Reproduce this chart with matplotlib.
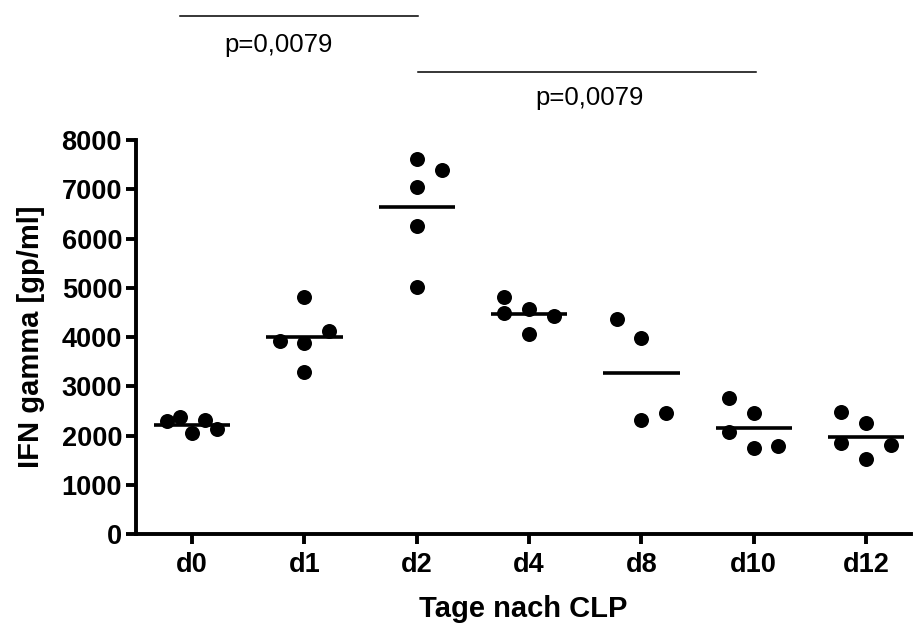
import matplotlib
matplotlib.use("Agg")
import matplotlib.pyplot as plt
import numpy as np

# data
days = ["d0", "d1", "d2", "d4", "d8", "d10", "d12"]
ifn_d0 = [2300, 2380, 2045, 2315, 2125]
ifn_d1 = [3925, 3870, 4130, 3295, 4810]
ifn_d2 = [7610, 7390, 7050, 6255, 5020]
ifn_d4 = [4820, 4495, 4560, 4425, 4060]
ifn_d8 = [4360, 3985, 2315, 2465]
ifn_d10 = [2755, 2465, 2075, 1740, 1785]
ifn_d12 = [2485, 2260, 1855, 1805, 1515]
means = [2210, 4005, 6645, 4460, 3265, 2145, 1975]
p_label = "p=0,0079"

# horizontal scatter steps used by the original plot (in half dot widths)
jitter = [
    [-2, -1, 0, 1, 2],
    [-2, 0, 2, 0, 0],
    [0, 2, 0, 0, 0],
    [-2, -2, 0, 2, 0],
    [-2, 0, 0, 2],
    [-2, 0, -2, 0, 2],
    [-2, 0, -2, 2, 0],
]
groups = [ifn_d0, ifn_d1, ifn_d2, ifn_d4, ifn_d8, ifn_d10, ifn_d12]

plt.rcParams["font.family"] = ["Liberation Sans", "DejaVu Sans"]

fig = plt.figure(figsize=(9.14, 6.24), dpi=100)
ax = fig.add_axes([136 / 914, 90 / 624, 775 / 914, 394 / 624])

step = 0.11
for i, (vals, jit) in enumerate(zip(groups, jitter)):
    xs = i + np.array(jit) * step
    ax.plot(xs, vals, "o", color="black", markersize=10.8, markeredgewidth=0, zorder=3)
    ax.plot([i - 0.34, i + 0.34], [means[i], means[i]], color="black", lw=2.6,
            solid_capstyle="butt", zorder=2)

ax.set_xlim(-0.5, 6.4)
ax.set_ylim(0, 8000)
ax.set_xticks(range(len(days)))
ax.set_xticklabels(days)
ax.set_yticks(np.arange(0, 8001, 1000))

for side in ["top", "right"]:
    ax.spines[side].set_visible(False)
for side in ["left", "bottom"]:
    ax.spines[side].set_linewidth(2.8)
    ax.spines[side].set_capstyle("projecting")

ax.tick_params(axis="both", width=2.8, length=7, labelsize=19.5)
ax.tick_params(axis="y", pad=3)
ax.tick_params(axis="x", pad=6)
for lab in ax.get_xticklabels() + ax.get_yticklabels():
    lab.set_fontweight("bold")

ax.set_xlabel("Tage nach CLP", fontsize=21, fontweight="bold", labelpad=12)
ax.set_ylabel("IFN gamma [gp/ml]", fontsize=21, fontweight="bold", labelpad=12)

# significance bars above the plot
ax.plot([-0.11, 2.01], [10520, 10520], color="black", lw=1.1, clip_on=False)
ax.text(0.77, 9930, p_label, fontsize=18.5, ha="center", va="center")
ax.plot([2.01, 5.02], [9390, 9390], color="black", lw=1.1, clip_on=False)
ax.text(3.54, 8850, p_label, fontsize=18.5, ha="center", va="center")

fig.savefig("out.png", dpi=100)
